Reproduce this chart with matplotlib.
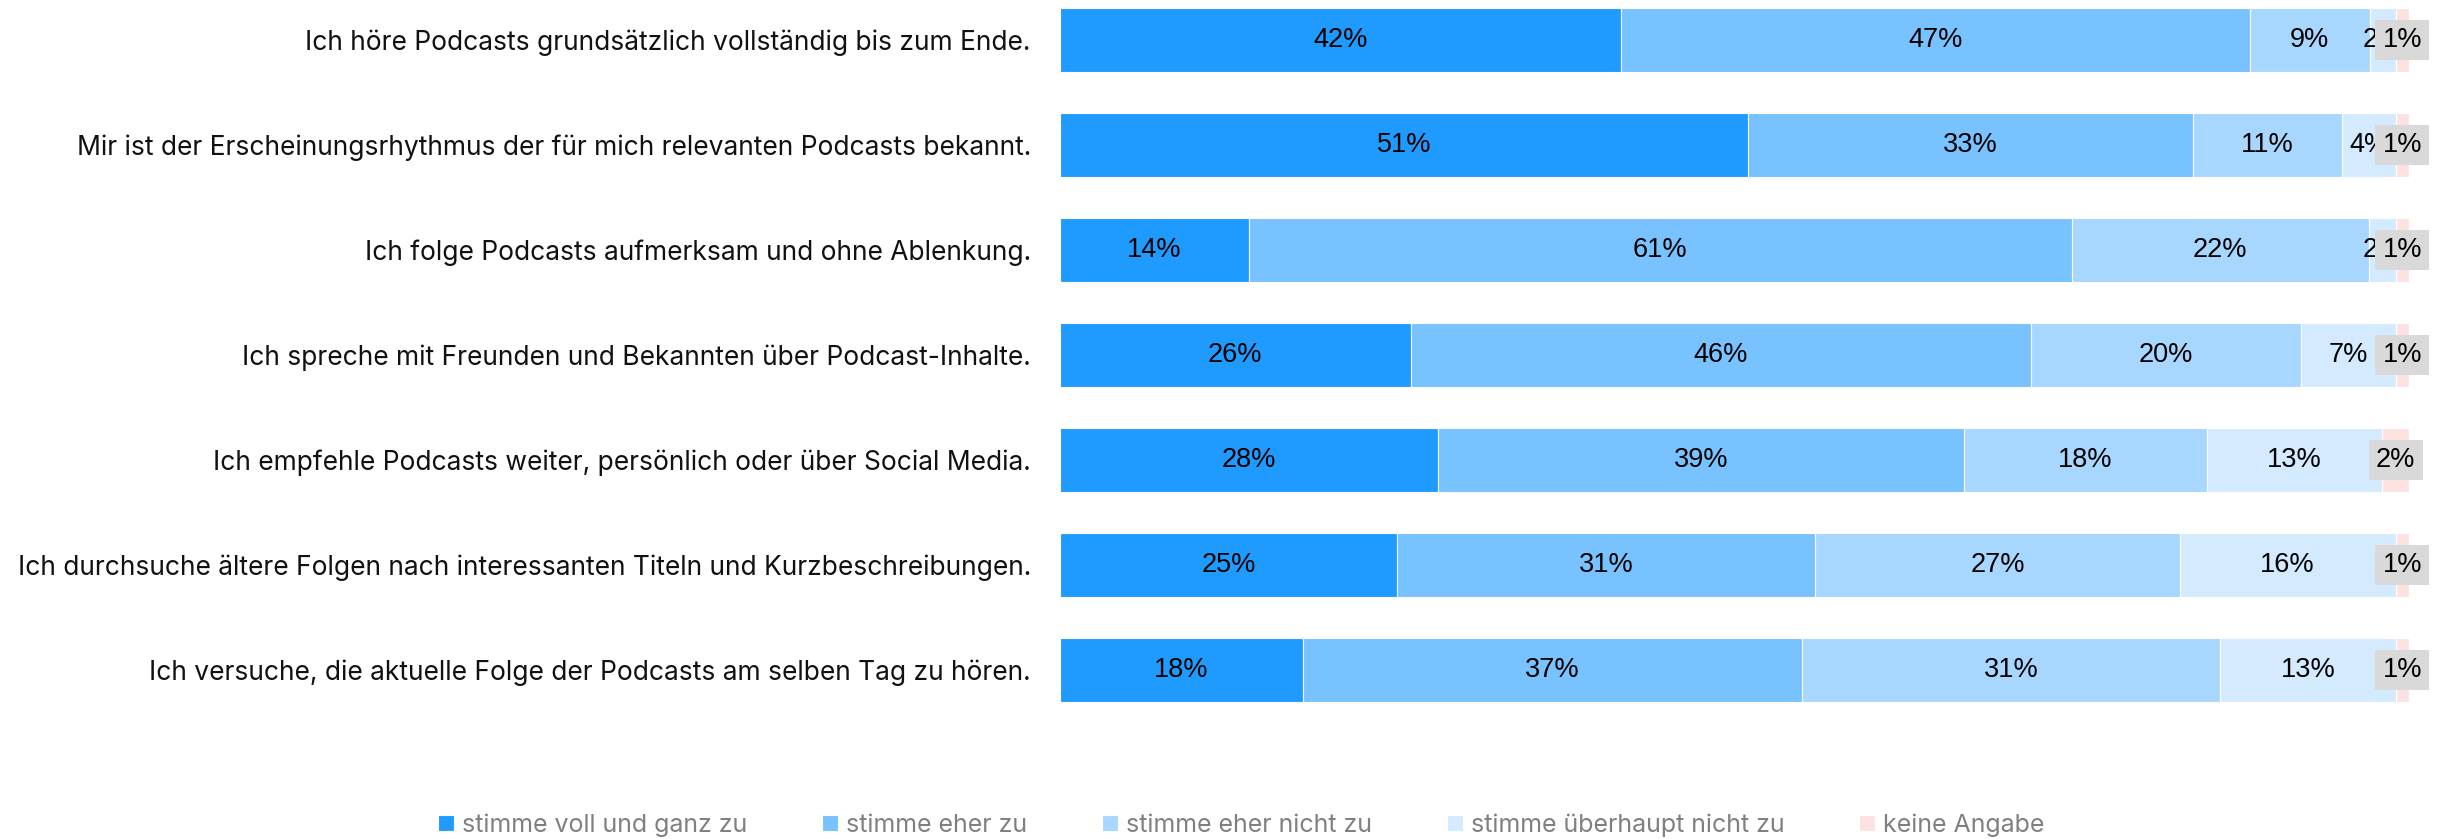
import matplotlib.pyplot as plt

# Zustimmung zu Aussagen über das Podcast-Hörverhalten (Anteile in %)
statements = [
    "Ich höre Podcasts grundsätzlich vollständig bis zum Ende.",
    "Mir ist der Erscheinungsrhythmus der für mich relevanten Podcasts bekannt.",
    "Ich folge Podcasts aufmerksam und ohne Ablenkung.",
    "Ich spreche mit Freunden und Bekannten über Podcast-Inhalte.",
    "Ich empfehle Podcasts weiter, persönlich oder über Social Media.",
    "Ich durchsuche ältere Folgen nach interessanten Titeln und Kurzbeschreibungen.",
    "Ich versuche, die aktuelle Folge der Podcasts am selben Tag zu hören.",
]
categories = ["stimme voll und ganz zu", "stimme eher zu", "stimme eher nicht zu",
              "stimme überhaupt nicht zu", "keine Angabe"]

voll_zu = [41.6, 51, 14, 26, 28, 25, 18]
eher_zu = [46.6, 33, 61, 46, 39, 31, 37]
eher_nicht = [8.9, 11, 22, 20, 18, 27, 31]
gar_nicht = [1.9, 4, 2, 7, 13, 16, 13]
keine_angabe = [1.0, 1, 1, 1, 2, 1, 1]

series = [voll_zu, eher_zu, eher_nicht, gar_nicht, keine_angabe]
colors = ["#1F9BFF", "#77C2FF", "#A7D7FF", "#D3EAFF", "#FDE2E2"]

W, H, DPI = 2458, 839, 100
fig = plt.figure(figsize=(W / DPI, H / DPI), dpi=DPI)

# axes placed in pixel units: bars start at x=1060, 100% ends at x=2409
top_px, bottom_px = 0, 735
ax = fig.add_axes([1060 / W, (H - bottom_px) / H, 1349 / W, (bottom_px - top_px) / H])

row0, step = 40, 105
ax.set_ylim((bottom_px - row0) / step, (top_px - row0) / step)
ax.set_xlim(0, 100)

ypos = list(range(len(statements)))
left = [0.0] * len(statements)
for k, (vals, col, cat) in enumerate(zip(series, colors, categories)):
    ax.barh(ypos, vals, left=left, height=0.61, color=col, edgecolor="white",
            linewidth=0.8, label=cat)
    for i, v in enumerate(vals):
        cx = left[i] + v / 2
        txt = f"{round(v)}%"
        if k == len(series) - 1:
            # "keine Angabe" is too narrow, so its label gets a grey box on top
            ax.text(cx, i, txt, ha="center", va="center", fontsize=19.5,
                    family="Liberation Sans", color="black", zorder=5,
                    bbox=dict(boxstyle="square,pad=0.27", fc="#D9D9D9", ec="none"))
        else:
            ax.text(cx, i, txt, ha="center", va="center", fontsize=19.5,
                    family="Liberation Sans", color="black", zorder=4)
    left = [l + v for l, v in zip(left, vals)]

ax.set_yticks(ypos)
ax.set_yticklabels(statements, fontsize=19, family="Inter", color="#111111")
ax.tick_params(axis="y", length=0, pad=21)
ax.set_xticks([])
for s in ax.spines.values():
    s.set_visible(False)

leg = fig.legend(loc="center", bbox_to_anchor=(0.505, (H - 825) / H), ncol=5,
                 frameon=False, handlelength=0.65, handleheight=0.65,
                 handletextpad=0.3, columnspacing=3.0,
                 prop={"family": "Inter", "size": 18})
for t in leg.get_texts():
    t.set_color("#808080")

fig.savefig("out.png", dpi=DPI)
